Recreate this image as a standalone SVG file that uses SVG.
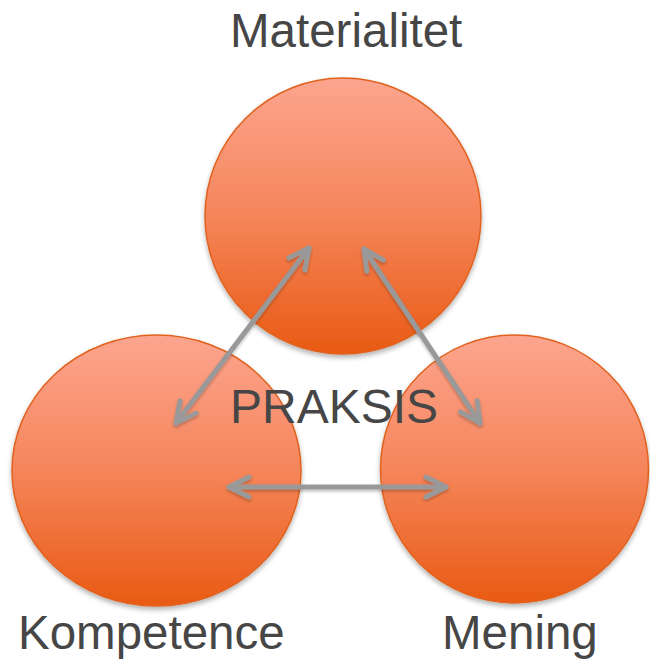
<svg xmlns="http://www.w3.org/2000/svg" width="650" height="661" viewBox="0 0 650 661">
<style>
.node{fill:url(#og);stroke:#e0621f;stroke-width:1.5;filter:url(#sh)}
.lbl{font-family:"Liberation Sans",Arial,sans-serif;font-size:47.5px;fill:#464646}
.conn{stroke:#999999;stroke-width:5;stroke-linecap:round;fill:none;marker-start:url(#ah);marker-end:url(#ah)}
</style>
<defs>
<linearGradient id="og" x1="0" y1="0" x2="0" y2="1">
<stop offset="0" stop-color="#fca58f"/>
<stop offset="0.5" stop-color="#f5855a"/>
<stop offset="1" stop-color="#e95a13"/>
</linearGradient>
<filter id="sh" x="-10%" y="-10%" width="120%" height="125%">
<feDropShadow dx="0" dy="3" stdDeviation="2.5" flood-color="#000" flood-opacity="0.3"/>
</filter>
<filter id="ash" x="-10%" y="-10%" width="120%" height="130%">
<feDropShadow dx="0" dy="2" stdDeviation="1.5" flood-color="#000" flood-opacity="0.25"/>
</filter>
<marker id="ah" markerUnits="userSpaceOnUse" orient="auto-start-reverse" refX="0" refY="0" markerWidth="40" markerHeight="40" viewBox="-30 -20 40 40" overflow="visible">
<path d="M-20,-10 L0,0 L-20,10" fill="none" stroke="#999999" stroke-width="5" stroke-linecap="round" stroke-linejoin="round"/>
</marker>
</defs>
<g id="materialitet">
<circle class="node" cx="343" cy="216" r="138"/>
<text class="lbl" x="230" y="47">Materialitet</text>
</g>
<g id="kompetence">
<ellipse class="node" cx="156.5" cy="470.5" rx="144.5" ry="135.5"/>
<text class="lbl" x="18" y="649">Kompetence</text>
</g>
<g id="mening">
<circle class="node" cx="514.5" cy="469" r="134"/>
<text class="lbl" x="442" y="649">Mening</text>
</g>
<g id="connectors" filter="url(#ash)">
<line class="conn" x1="176" y1="423" x2="309" y2="248"/>
<line class="conn" x1="364" y1="249" x2="480" y2="423"/>
<line class="conn" x1="229" y1="487" x2="446" y2="487"/>
</g>
<g id="praksis">
<text class="lbl" x="230" y="423" style="font-size:48px">PRAKSIS</text>
</g>
</svg>
